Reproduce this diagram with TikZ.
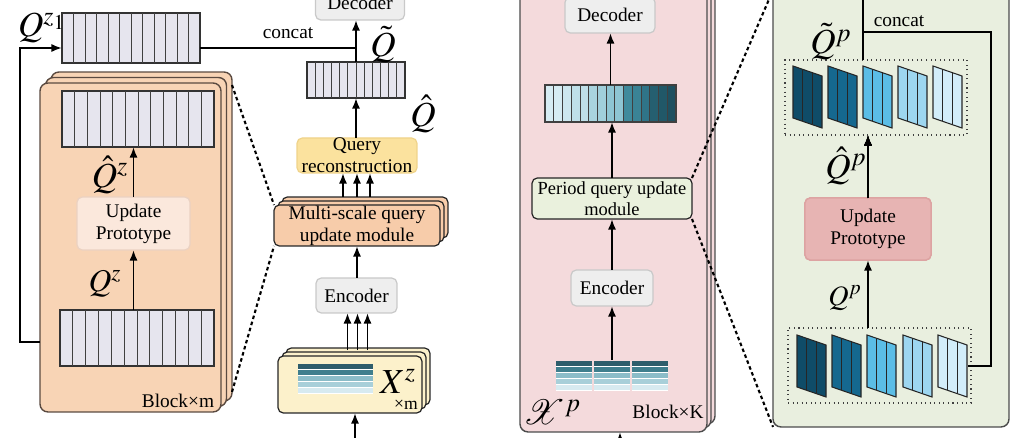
\documentclass[tikz,border=0pt]{standalone}
\usepackage{mathptmx}
\usepackage[no-math]{fontspec}
\setmainfont{Liberation Serif}
\usepackage{tikz}
\usetikzlibrary{arrows.meta, positioning, shadows, calc}
\definecolor{barfill}{HTML}{E6E5EE}
\definecolor{peach}{HTML}{F8D4B5}
\definecolor{peachline}{HTML}{5A4A40}
\definecolor{updfill}{HTML}{FBE8DC}
\definecolor{updline}{HTML}{EBD2C2}
\definecolor{greyfill}{HTML}{EEEEEE}
\definecolor{greyline}{HTML}{C9C9C9}
\definecolor{recfill}{HTML}{FBE29E}
\definecolor{recline}{HTML}{EFD38A}
\definecolor{msqfill}{HTML}{F7CCAA}
\definecolor{xzfill}{HTML}{FCF1CB}
\definecolor{pinkfill}{HTML}{F4DADC}
\definecolor{pqufill}{HTML}{EAF1DD}
\definecolor{sagefill}{HTML}{E9EFDF}
\definecolor{rosefill}{HTML}{E7B4B3}
\definecolor{roseline}{HTML}{DDA3A2}
% stripes of the inputs
\definecolor{st1}{HTML}{2E5D6B}
\definecolor{st2}{HTML}{3F7E8D}
\definecolor{st3}{HTML}{8BBCC8}
\definecolor{st4}{HTML}{A8CFD9}
\definecolor{st5}{HTML}{D7EAF0}
% period slabs
\definecolor{sl1}{HTML}{0F4C68}
\definecolor{sl2}{HTML}{15688F}
\definecolor{sl3}{HTML}{5BBDE6}
\definecolor{sl4}{HTML}{9DD6F0}
\definecolor{sl5}{HTML}{D2EDFA}

% split a bar node into #2 cells
\newcommand{\cellsplit}[2]{%
  \pgfmathtruncatemacro{\cs}{#2-1}
  \foreach \k in {1,...,\cs}
    \draw[cellline] ($(#1.north west)!{\k/#2}!(#1.north east)$) -- ($(#1.south west)!{\k/#2}!(#1.south east)$);}
% five stripes at (x,y), width #3
\newcommand{\stripes}[3]{%
  \fill[white] (#1,#2) rectangle ++(#3,30);
  \foreach \c [count=\i from 0] in {st1,st2,st3,st4,st5}
    \fill[\c] ({#1},{#2+\i*6}) rectangle ++(#3,5);}
% slanted slab with three strips
\newcommand{\slab}[3]{%
  \filldraw[fill=#3, draw=black!85, line width=0.6pt] (#1,#2) -- ++(29,10) -- ++(0,52) -- ++(-29,-10) -- cycle;
  \draw[black!85, line width=0.5pt] ({#1+9.7},{#2+3.3}) -- ++(0,52) ({#1+19.3},{#2+6.7}) -- ++(0,52);}

\begin{document}
\begin{tikzpicture}[x=0.02cm, y=-0.02cm,
  line/.style={line width=1.1pt, draw=black},
  arr/.style={line, -{Latex[length=6pt,width=4.6pt]}},
  dots/.style={line width=1.2pt, dash pattern=on 2pt off 1.6pt},
  cellbar/.style={draw=black!80, fill=barfill, line width=0.6pt, inner sep=0pt, outer sep=0pt},
  cellline/.style={draw=black!75, line width=0.5pt},
  box/.style={rounded corners=3pt, inner sep=0pt, outer sep=0pt, align=center, line width=0.7pt,
              font=\fontsize{11}{12.5}\selectfont},
  panel/.style={rounded corners=4.5pt, inner sep=0pt, outer sep=0pt, line width=0.8pt},
  grp/.style={draw=black!75, dotted, line width=0.6pt, inner sep=0pt, outer sep=0pt},
  lbl/.style={font=\fontsize{20}{22}\selectfont, inner sep=0pt},
  txt/.style={font=\fontsize{11}{13}\selectfont, inner sep=0pt},
]
\useasboundingbox (0,0) rectangle (1028,438);

% --- multi-scale block ---
\node[cellbar, minimum width=2.76cm, minimum height=1cm] (qzone) at (131,38) {};
\cellsplit{qzone}{12}
\node[lbl] at (42,28) {$Q^{z_1}$};
\node[panel, draw=peachline, fill=peach, minimum width=3.62cm, minimum height=6.58cm,
      double copy shadow={shadow xshift=0.11cm, shadow yshift=0.11cm}] (blockm) at (130.5,247.5) {};
\node[cellbar, minimum width=3.04cm, minimum height=1.12cm] (qzhat) at (138,119) {};
\cellsplit{qzhat}{12}
\node[box, draw=updline, fill=updfill, minimum width=2.26cm, minimum height=1.06cm] (updl) at (133.5,223.5) {Update\\Prototype};
\node[cellbar, minimum width=3.08cm, minimum height=1.12cm] (qzbot) at (137,338) {};
\cellsplit{qzbot}{12}
\draw[arr] (updl.north) -- (updl.north |- qzhat.south);
\draw[arr] (qzbot.north -| updl.south) -- (updl.south);
\node[lbl] at (110,175) {$\hat{Q}^{z}$};
\node[lbl, font=\fontsize{18}{20}\selectfont] at (105,284) {$Q^{z}$};
\node[txt] at (178,401) {Block×m};
\draw[arr] ([shift={(0,4)}]qzbot.west -| blockm.west) -- ++(-20,0) |- ([shift={(0,10)}]qzone.west);

% --- middle column ---
\node[box, draw=greyline, fill=greyfill, minimum width=1.78cm, minimum height=0.7cm] (dec1) at (360,2.5) {Decoder};
\node[cellbar, minimum width=1.96cm, minimum height=0.72cm] (qtil) at (356,80) {};
\cellsplit{qtil}{12}
\draw[line] ([shift={(0,10)}]qzone.east) -| (qtil.north);
\node[txt] at (288,33) {concat};
\draw[arr] (qtil.north) -- (qtil.north |- dec1.south);
\node[lbl] at (383,45) {$\tilde{Q}$};
\node[lbl] at (423,114) {$\hat{Q}$};
\node[box, draw=recline, fill=recfill, minimum width=2.4cm, minimum height=0.7cm] (qrec) at (357,155.5) {Query\\reconstruction};
\draw[arr] (qrec.north -| qtil.south) -- (qtil.south);
\node[box, draw=black!85, fill=msqfill, minimum width=3.32cm, minimum height=0.82cm,
      double copy shadow={shadow xshift=0.08cm, shadow yshift=0.08cm}] (msq) at (357,225.5) {Multi-scale query\\update module};
\foreach \dx in {-14,0,13}
  \draw[arr] ([shift={(\dx,-8)}]msq.north) -- ([shift={(\dx,0)}]qrec.south);
\node[box, draw=greyline, fill=greyfill, minimum width=1.62cm, minimum height=0.7cm] (enc1) at (356.5,295.5) {Encoder};
\draw[arr] (enc1.north -| msq.south) -- (msq.south);
\node[box, draw=black!85, fill=xzfill, minimum width=2.88cm, minimum height=1.14cm,
      double copy shadow={shadow xshift=0.08cm, shadow yshift=0.08cm}] (xz) at (350,384.5) {};
\stripes{298}{364}{75}
\node[lbl] at (398,381) {$X^{z}$};
\node[txt, font=\fontsize{10}{12}\selectfont] at (406,405) {×m};
\foreach \dx in {-9,1,11}
  \draw[arr] ([shift={(\dx,-6)}]xz.north -| enc1.south) -- ([shift={(\dx,0)}]enc1.south);
\coordinate (xzin) at (355,452);
\draw[arr] (xzin) -- (xzin |- xz.south);
\draw[dots] ([shift={(11,2)}]blockm.north east) -- (msq.north west);
\draw[dots] ([shift={(11,-20)}]blockm.south east) -- (msq.south west);

% --- period block ---
\node[panel, draw=black!70, fill=pinkfill, minimum width=3.74cm, minimum height=8.84cm,
      double copy shadow={shadow xshift=0.08cm, shadow yshift=0.08cm}] (blockk) at (613.5,211) {};
\node[box, draw=greyline, fill=greyfill, minimum width=1.8cm, minimum height=0.72cm] (dec2) at (610,15) {Decoder};
\node[inner sep=0pt, outer sep=0pt, minimum width=2.62cm, minimum height=0.74cm] (pbar) at (610.5,103.5) {};
\foreach \c [count=\k from 0] in {D6ECF3,D6ECF3,CDE7EF,BFE0E9,BFE0E9,A9D4DF,A0CFDB,8EC5D3,8EC5D3,3F8A9C,3A8395,2F7488,255F70,215868,1E5060}{
  \definecolor{gcell}{HTML}{\c}
  \fill[gcell] ($(pbar.north west)!{\k/15}!(pbar.north east)$) rectangle ($(pbar.south west)!{(\k+1)/15}!(pbar.south east)$);}
\cellsplit{pbar}{15}
\draw[cellline, line width=0.6pt] (pbar.north west) rectangle (pbar.south east);
\draw[arr] (pbar.north) -- (pbar.north |- dec2.south);
\node[box, draw=black!85, fill=pqufill, minimum width=3.2cm, minimum height=0.82cm,
      font=\fontsize{10.5}{12}\selectfont] (pqu) at (612,198.5) {Period query update\\module};
\draw[arr] (pqu.north) -- (pqu.north |- pbar.south);
\node[box, draw=greyline, fill=greyfill, minimum width=1.64cm, minimum height=0.72cm] (enc2) at (612,288) {Encoder};
\draw[arr] (enc2.north) -- (enc2.north |- pqu.south);
\node[inner sep=0pt, outer sep=0pt, minimum width=2.24cm, minimum height=0.62cm] (xp) at (612,375.5) {};
\stripes{556}{361}{36}
\stripes{594}{361}{36}
\stripes{632}{361}{36}
\draw[arr] (xp.north) -- (xp.north |- enc2.south);
\node[lbl] at (552,412) {$\mathcal{X}^{p}$};
\node[txt] at (668,412) {Block×K};
\coordinate (kin) at (620,452);
\draw[arr] (kin) -- (kin |- blockk.south);

% --- period query update module ---
\node[panel, draw=black!70, fill=sagefill, minimum width=4.72cm, minimum height=8.74cm] (pqm) at (891,208.5) {};
\draw[dots] (pqu.north east) -- (pqm.north west);
\draw[dots] (pqu.south east) -- (pqm.south west);
\node[grp, minimum width=3.64cm, minimum height=1.5cm] (qtp) at (876,97.5) {};
\foreach \sx/\c in {793/sl1,828/sl2,863/sl3,898/sl4,933/sl5}
  \slab{\sx}{66}{\c}
\node[box, draw=roseline, fill=rosefill, minimum width=2.52cm, minimum height=1.24cm] (updr) at (868,229) {Update\\Prototype};
\node[grp, minimum width=3.66cm, minimum height=1.5cm] (qp) at (879.5,365.5) {};
\foreach \sx/\c in {797/sl1,832/sl2,867/sl3,903/sl4,938/sl5}
  \slab{\sx}{335}{\c}
\draw[arr] (updr.north) -- (updr.north |- qtp.south);
\draw[arr] (updr.south |- qp.north) -- (updr.south);
\coordinate (pout) at (863,-12);
\coordinate (cc) at (991,32);
\coordinate (pend) at (968,366);
\draw[arr] (qtp.north -| pout) -- (pout);
\draw[line] (pout |- cc) -- (cc) |- (pend);
\node[txt] at (899,21) {concat};
\node[lbl] at (831,42) {$\tilde{Q}^{p}$};
\node[lbl] at (846,166) {$\hat{Q}^{p}$};
\node[lbl, font=\fontsize{16}{18}\selectfont] at (845,298) {$Q^{p}$};
\end{tikzpicture}
\end{document}
